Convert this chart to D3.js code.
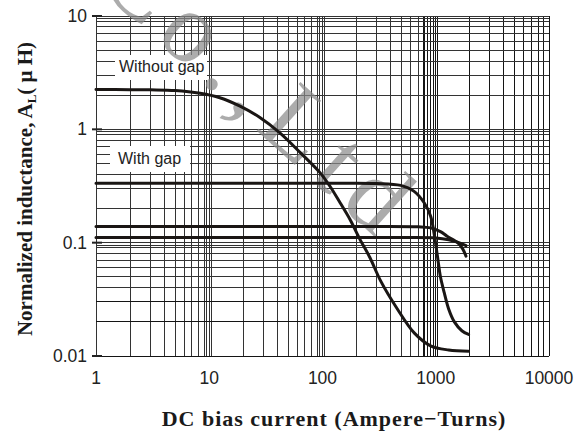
<!DOCTYPE html>
<html><head><meta charset="utf-8">
<script src="https://cdn.jsdelivr.net/npm/d3@7/dist/d3.min.js"></script>
<style>body{margin:0;background:#fff}svg{display:block}</style>
</head><body>
<svg id="c" width="584" height="434"></svg>
<script>
// ---- data ----
const xTickValues = [1, 10, 100, 1000, 10000];
const xTickLabels = ["1", "10", "100", "1000", "10000"];
const yTickValues = [0.01, 0.1, 1, 10];
const yTickLabels = ["0.01", "0.1", "1", "10"];
const extraXGrid = [9.5, 10.5, 95, 105, 780, 850, 950, 1040];
const extraYGrid = [0.095, 0.95, 9.5];

const withoutGapX = [1, 2, 3, 5, 8.3, 12.4, 18.7, 28, 42, 64, 95, 116, 143, 175, 214, 262, 326, 458, 645, 900, 1300, 1950];
const withoutGapY = [2.25, 2.24, 2.23, 2.2, 2.08, 1.9, 1.6, 1.27, 0.93, 0.62, 0.415, 0.316, 0.225, 0.16, 0.107, 0.074, 0.046, 0.026, 0.016, 0.0123, 0.0113, 0.011];

const withGapX = [1, 10, 100, 300, 490, 640, 790, 900, 965, 1035, 1100, 1190, 1300, 1460, 1700, 1950];
const withGapY = [0.335, 0.335, 0.334, 0.333, 0.32, 0.285, 0.225, 0.172, 0.122, 0.076, 0.05, 0.036, 0.026, 0.02, 0.0167, 0.0155];

const gap2X = [1, 100, 300, 700, 900, 1100, 1260, 1560, 1720, 1850];
const gap2Y = [0.139, 0.139, 0.139, 0.138, 0.135, 0.125, 0.114, 0.1, 0.089, 0.076];

const gap3X = [1, 100, 500, 1000, 1300, 1600, 1850];
const gap3Y = [0.111, 0.111, 0.111, 0.11, 0.106, 0.1, 0.094];

const curveLabels = ["Without gap", "With gap"];
const xTitle = "DC bias current (Ampere\u2212Turns)";
const watermark = "Co.,Ltd";

// ---- layout ----
const L = 96, R = 549, T = 16, B = 356;
const svg = d3.select("#c");
const x = d3.scaleLog().domain([1, 10000]).range([L, R]);
const y = d3.scaleLog().domain([0.01, 10]).range([B, T]);

// grid values
const xg = [];
for (let d = 1; d < 10000; d *= 10) for (let k = 1; k <= 9; k++) xg.push(d * k);
xg.push(10000);
const yg = [];
for (let d = 0.01; d < 9; d *= 10) for (let k = 1; k <= 9; k++) yg.push(+(d * k).toPrecision(3));
yg.push(10);

const grid = svg.append("g").attr("stroke-width", 1).attr("shape-rendering", "crispEdges");
grid.selectAll("line.v").data(xg.concat(extraXGrid)).join("line")
  .attr("x1", d => x(d)).attr("x2", d => x(d)).attr("y1", T).attr("y2", B)
  .attr("stroke", d => d >= 750 ? "#141414" : "#333");
grid.selectAll("line.h").data(yg.concat(extraYGrid)).join("line")
  .attr("x1", L).attr("x2", R).attr("y1", d => y(d)).attr("y2", d => y(d))
  .attr("stroke", d => (d < 0.035) ? "#141414" : "#333");

// label boxes
const boxes = [
  {text: curveLabels[0], x0: 115, x1: 207, y0: 55, y1: 80, tx: 119, ty: 72},
  {text: curveLabels[1], x0: 110, x1: 190, y0: 146, y1: 172, tx: 118, ty: 164}
];
svg.selectAll("rect.lb").data(boxes).join("rect")
  .attr("x", d => d.x0).attr("y", d => d.y0).attr("width", d => d.x1 - d.x0).attr("height", d => d.y1 - d.y0)
  .attr("fill", "#fff");
svg.selectAll("text.lb").data(boxes).join("text")
  .attr("x", d => d.tx).attr("y", d => d.ty).text(d => d.text)
  .attr("font-family", "Liberation Sans, Arial, sans-serif").attr("font-size", 16).attr("fill", "#222");

// y tick marks
svg.append("g").selectAll("line").data(yTickValues).join("line")
  .attr("x1", L - 4).attr("x2", L + 6).attr("y1", d => y(d)).attr("y2", d => y(d))
  .attr("stroke", "#222").attr("stroke-width", 2);

// watermark
svg.append("text").text(watermark)
  .attr("transform", "translate(95,-15) rotate(42)")
  .attr("font-family", "Liberation Serif, serif").attr("font-size", 100).attr("letter-spacing", 12)
  .attr("fill", "#8a8a8a").attr("opacity", 0.7);

// curves
const line = d3.line().x(d => x(d[0])).y(d => y(d[1])).curve(d3.curveCatmullRom.alpha(0.5));
const series = [
  d3.zip(withoutGapX, withoutGapY),
  d3.zip(withGapX, withGapY),
  d3.zip(gap2X, gap2Y),
  d3.zip(gap3X, gap3Y)
];
svg.append("g").selectAll("path").data(series).join("path")
  .attr("d", line).attr("fill", "none").attr("stroke", "#1a1614").attr("stroke-width", 3)
  .attr("stroke-linecap", "round");

// axes labels
svg.append("g").selectAll("text").data(xTickValues).join("text")
  .attr("x", d => x(d)).attr("y", 384).attr("text-anchor", "middle")
  .text((d, i) => xTickLabels[i])
  .attr("font-family", "Liberation Sans, Arial, sans-serif").attr("font-size", 17.5).attr("fill", "#222");
svg.append("g").selectAll("text").data(yTickValues).join("text")
  .attr("x", 87).attr("y", d => y(d) + 6).attr("text-anchor", "end")
  .text((d, i) => yTickLabels[i])
  .attr("font-family", "Liberation Sans, Arial, sans-serif").attr("font-size", 17.5).attr("fill", "#222");

svg.append("text").attr("x", 334).attr("y", 426).attr("text-anchor", "middle")
  .attr("font-family", "Liberation Serif, Times New Roman, serif").attr("font-weight", "bold").attr("font-size", 22)
  .attr("letter-spacing", 1).attr("fill", "#1a1a1a").text(xTitle);

const yt = svg.append("text").attr("transform", "translate(32,189) rotate(-90)").attr("text-anchor", "middle")
  .attr("font-family", "Liberation Serif, Times New Roman, serif").attr("font-weight", "bold").attr("font-size", 21)
  .attr("fill", "#1a1a1a");
yt.append("tspan").text("Normalized inductance, A");
yt.append("tspan").text("L").attr("font-size", 13).attr("dy", 4);
yt.append("tspan").text("( \u03bc H)").attr("dy", -4);
</script>
</body></html>
